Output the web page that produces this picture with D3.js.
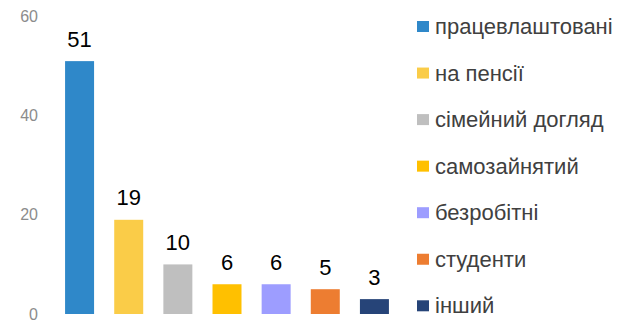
<!DOCTYPE html>
<html>
<head>
<meta charset="utf-8">
<script src="https://cdn.jsdelivr.net/npm/d3@7"></script>
<style>
  html, body { margin: 0; padding: 0; background: #fff; }
  svg { display: block; font-family: "Liberation Sans", Arial, sans-serif; }
</style>
</head>
<body>
<svg id="chart" width="620" height="321"></svg>
<script>
// Employment status of respondents
const categories = ["працевлаштовані", "на пенсії", "сімейний догляд", "самозайнятий", "безробітні", "студенти", "інший"];
const values = [51, 19, 10, 6, 6, 5, 3];
const colors = ["#2F88C9", "#FACC48", "#BFBFBF", "#FFC000", "#9D9DFF", "#ED7D31", "#264478"];
const yTicks = [0, 20, 40, 60];

const svg = d3.select("#chart");

const x = d3.scaleBand()
  .domain(categories)
  .range([55, 399])
  .paddingInner(0.41)
  .paddingOuter(0.205);

const y = d3.scaleLinear()
  .domain([0, 60])
  .range([314, 16.5]);

// Value axis: labels only, no line or ticks
const yAxis = d3.axisLeft(y).tickValues(yTicks).tickSize(0).tickPadding(0);
const gy = svg.append("g").attr("transform", "translate(38,0)").call(yAxis);
gy.select(".domain").remove();
gy.selectAll("text")
  .attr("fill", "#8C8C8C")
  .style("font-size", "16px")
  .style("font-family", "Liberation Sans, Arial, sans-serif");

// Bars
svg.append("g").selectAll("rect")
  .data(values)
  .join("rect")
  .attr("x", (d, i) => x(categories[i]))
  .attr("y", d => y(d))
  .attr("width", x.bandwidth())
  .attr("height", d => y(0) - y(d))
  .attr("fill", (d, i) => colors[i]);

// Value labels above bars
svg.append("g").selectAll("text")
  .data(values)
  .join("text")
  .attr("x", (d, i) => x(categories[i]) + x.bandwidth() / 2)
  .attr("y", d => y(d) - 14.5)
  .attr("text-anchor", "middle")
  .attr("fill", "#000")
  .style("font-size", "22px")
  .text(d => d);

// Legend
const legend = svg.append("g").attr("transform", "translate(417,0)");
const row = legend.selectAll("g")
  .data(categories)
  .join("g")
  .attr("transform", (d, i) => `translate(0,${34 + i * 46.55})`);
row.append("rect")
  .attr("x", 0).attr("y", -13)
  .attr("width", 12).attr("height", 11)
  .attr("fill", (d, i) => colors[i]);
row.append("text")
  .attr("x", 18)
  .attr("y", 0)
  .attr("fill", "#404040")
  .style("font-size", "22px")
  .text(d => d);
</script>
</body>
</html>
